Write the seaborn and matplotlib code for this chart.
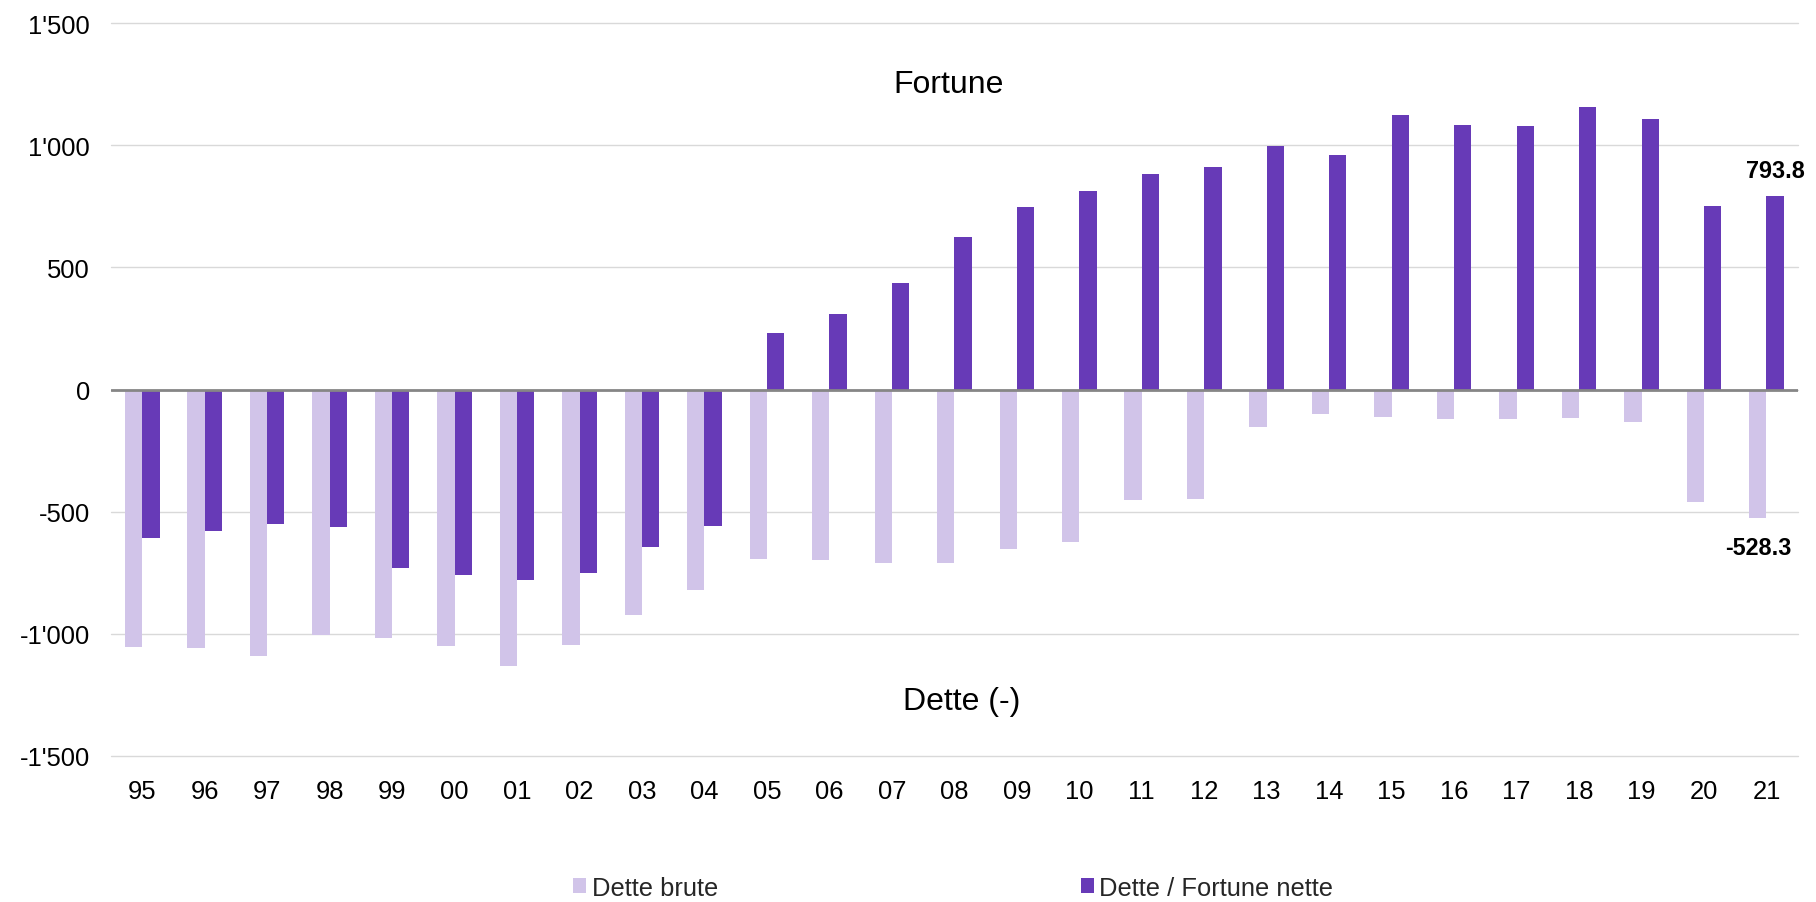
import matplotlib
matplotlib.use("Agg")
import matplotlib.pyplot as plt
import seaborn as sns
import pandas as pd
from matplotlib.patches import Patch

years = ["95", "96", "97", "98", "99", "00", "01", "02", "03", "04", "05", "06", "07",
         "08", "09", "10", "11", "12", "13", "14", "15", "16", "17", "18", "19", "20", "21"]
dette_brute = [-1054, -1060, -1092, -1006, -1017, -1051, -1133, -1047, -922, -823,
               -696, -700, -710, -709, -654, -625, -453, -447, -152, -102,
               -111, -119, -119, -115, -135, -459, -528.3]
fortune_nette = [-610, -578, -552, -565, -731, -761, -780, -751, -646, -561,
                 232, 310, 436, 626, 746, 815, 884, 913, 996, 959,
                 1126, 1085, 1081, 1159, 1107, 753, 793.8]
series_names = ["Dette brute", "Dette / Fortune nette"]
ytick_values = [-1500, -1000, -500, 0, 500, 1000, 1500]
ytick_labels = ["-1'500", "-1'000", "-500", "0", "500", "1'000", "1'500"]
label_top = "Fortune"
label_bottom = "Dette (-)"

colors = {"Dette brute": "#D1C4E9", "Dette / Fortune nette": "#673AB7"}

df = pd.DataFrame({
    "year": years * 2,
    "series": [series_names[0]] * len(years) + [series_names[1]] * len(years),
    "value": dette_brute + fortune_nette,
})

sns.set_theme(style="white")
plt.rcParams["font.family"] = ["Liberation Sans", "DejaVu Sans"]

fig = plt.figure(figsize=(18.16, 9.03), dpi=100)
ax = fig.add_axes([111 / 1816, 1 - 756.7 / 903, (1797.7 - 111) / 1816, (756.7 - 24.3) / 903])

sns.barplot(data=df, x="year", y="value", hue="series", order=years,
            hue_order=series_names, palette=colors, width=0.554, linewidth=0,
            saturation=1, ax=ax, legend=False)

ax.set_ylim(-1500, 1500)
ax.set_xlim(-0.5, len(years) - 0.5)
ax.set_yticks(ytick_values)
ax.set_yticklabels(ytick_labels)
ax.set_axisbelow(True)
ax.yaxis.grid(True, color="#D9D9D9", linewidth=1.0)
ax.xaxis.grid(False)
for s in ax.spines.values():
    s.set_visible(False)
ax.axhline(0, color="#868686", linewidth=2.0, zorder=3)
ax.tick_params(axis="y", length=0, pad=15, labelsize=18.4, colors="black")
ax.tick_params(axis="x", length=0, pad=17, labelsize=18.4, colors="black")
ax.set_xlabel("")
ax.set_ylabel("")
for gl in ax.get_ygridlines():
    gl.set_clip_on(False)

# value labels for last year
n = len(years) - 1
ax.text(n + 0.1385, 898, f"{fortune_nette[-1]:.1f}", ha="center", va="center",
        fontsize=16.8, fontweight="bold", color="black")
ax.text(n - 0.1385, -646, f"{dette_brute[-1]:.1f}", ha="center", va="center",
        fontsize=16.8, fontweight="bold", color="black")

ax.text(12.91, 1253, label_top, ha="center", va="center", fontsize=23, color="black")
ax.text(13.11, -1277, label_bottom, ha="center", va="center", fontsize=23, color="black")

handles = [Patch(facecolor=colors[s], edgecolor="none") for s in series_names]
fig.legend(handles, series_names, loc="center left", bbox_to_anchor=(573 / 1816, 1 - 889 / 903),
           ncol=2, frameon=False, fontsize=18.4, handlelength=0.52, handleheight=0.52,
           handletextpad=0.21, columnspacing=14.2, borderpad=0, borderaxespad=0)

fig.savefig("out.png", dpi=100)
